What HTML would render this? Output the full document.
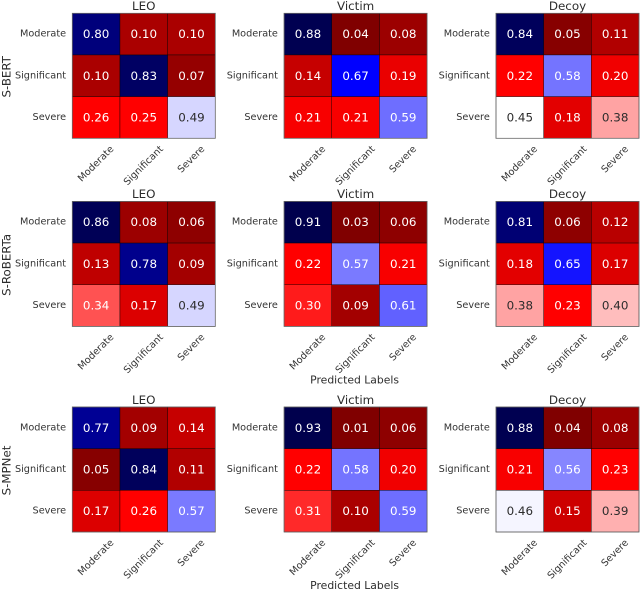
<!DOCTYPE html>
<html>
<head>
<meta charset="utf-8">
<title>Confusion matrices</title>
<style>
html,body{margin:0;padding:0;background:#fff;width:640px;height:589px;overflow:hidden}
svg{display:block;filter:blur(0.35px)}
text{font-family:"DejaVu Sans","Liberation Sans",sans-serif}
</style>
</head>
<body>
<svg id="chart" xmlns="http://www.w3.org/2000/svg" width="640" height="589" viewBox="0 0 640 589"></svg>
<script>
const categories = ["Moderate", "Significant", "Severe"];
const columnTitles = ["LEO", "Victim", "Decoy"];
const modelNames = ["S-BERT", "S-RoBERTa", "S-MPNet"];
const xAxisTitle = "Predicted Labels";

const sbertLeo = [[0.80, 0.10, 0.10], [0.10, 0.83, 0.07], [0.26, 0.25, 0.49]];
const sbertVictim = [[0.88, 0.04, 0.08], [0.14, 0.67, 0.19], [0.21, 0.21, 0.59]];
const sbertDecoy = [[0.84, 0.05, 0.11], [0.22, 0.58, 0.20], [0.45, 0.18, 0.38]];
const robertaLeo = [[0.86, 0.08, 0.06], [0.13, 0.78, 0.09], [0.34, 0.17, 0.49]];
const robertaVictim = [[0.91, 0.03, 0.06], [0.22, 0.57, 0.21], [0.30, 0.09, 0.61]];
const robertaDecoy = [[0.81, 0.06, 0.12], [0.18, 0.65, 0.17], [0.38, 0.23, 0.40]];
const mpnetLeo = [[0.77, 0.09, 0.14], [0.05, 0.84, 0.11], [0.17, 0.26, 0.57]];
const mpnetVictim = [[0.93, 0.01, 0.06], [0.22, 0.58, 0.20], [0.31, 0.10, 0.59]];
const mpnetDecoy = [[0.88, 0.04, 0.08], [0.21, 0.56, 0.23], [0.46, 0.15, 0.39]];

const matrices = [
  [sbertLeo, sbertVictim, sbertDecoy],
  [robertaLeo, robertaVictim, robertaDecoy],
  [mpnetLeo, mpnetVictim, mpnetDecoy]
];

// Colour scale: cell value to position on the reversed seismic colormap
const colorScaleValues = [0.04, 0.22, 0.28, 0.31, 0.34, 0.38, 0.45, 0.49, 0.57, 0.61, 0.65, 0.67, 0.77, 0.84, 0.90];
const colorScaleStops = [0.00, 0.25, 0.25, 0.29, 0.33, 0.41, 0.50, 0.54, 0.63, 0.655, 0.73, 0.75, 0.90, 0.98, 1.00];

const svg = document.getElementById('chart');
const NS = 'http://www.w3.org/2000/svg';
const panelW = 143, panelH = 125;
const panelLeft = [72.3, 284.1, 496];
const panelTop = [13.3, 201.4, 407];
const showXTitle = [false, true, true];
const textDark = '#2c2c2c';

function make(parent, tag, attrs, content) {
  const el = document.createElementNS(NS, tag);
  for (const k in attrs) el.setAttribute(k, attrs[k]);
  if (content !== undefined) el.textContent = content;
  parent.appendChild(el);
  return el;
}

function colorPosition(v) {
  const xs = colorScaleValues, ys = colorScaleStops;
  if (v <= xs[0]) return ys[0];
  for (let k = 1; k < xs.length; k++) {
    if (v <= xs[k]) return ys[k - 1] + (ys[k] - ys[k - 1]) * (v - xs[k - 1]) / (xs[k] - xs[k - 1]);
  }
  return ys[ys.length - 1];
}

// seismic_r colormap
function seismicR(t) {
  const u = 1 - Math.max(0, Math.min(1, t));
  let r, g, b;
  if (u < 0.25) { const f = u / 0.25; r = 0; g = 0; b = 0.3 + 0.7 * f; }
  else if (u < 0.5) { const f = (u - 0.25) / 0.25; r = f; g = f; b = 1; }
  else if (u < 0.75) { const f = (u - 0.5) / 0.25; r = 1; g = 1 - f; b = 1 - f; }
  else { const f = (u - 0.75) / 0.25; r = 1 - 0.5 * f; g = 0; b = 0; }
  return [r, g, b];
}
function luminance(c) {
  const l = c.map(v => v <= 0.03928 ? v / 12.92 : Math.pow((v + 0.055) / 1.055, 2.4));
  return 0.2126 * l[0] + 0.7152 * l[1] + 0.0722 * l[2];
}
function css(c) {
  return 'rgb(' + c.map(v => Math.round(v * 255)).join(',') + ')';
}

matrices.forEach(function (rowMatrices, r) {
  const rowGroup = make(svg, 'g', {});
  
  

  const top = panelTop[r];
  const modelLabel = make(rowGroup, 'text', {
    x: 0, y: 0, 'font-size': 11.8, fill: textDark,
    'text-anchor': 'middle', 'dominant-baseline': 'central',
    transform: 'translate(6.5 ' + (top + panelH / 2 + 1) + ') rotate(-90)'
  }, modelNames[r]);
  
  

  rowMatrices.forEach(function (values, c) {
    const left = panelLeft[c];
    const xScale = i => left + i * panelW / categories.length;
    const yScale = j => top + j * panelH / categories.length;
    const cellW = panelW / categories.length, cellH = panelH / categories.length;

    const g = make(rowGroup, 'g', {});
    
    

    const title = make(g, 'text', {
      x: left + panelW / 2, y: top - 3.2, 'font-size': 11.9,
      fill: textDark, 'text-anchor': 'middle'
    }, columnTitles[c]);
    
    

    values.forEach(function (row, j) {
      row.forEach(function (v, i) {
        const col = seismicR(colorPosition(v));
        const cell = make(g, 'rect', {
          x: xScale(i), y: yScale(j), width: cellW, height: cellH,
          fill: css(col), stroke: '#000', 'stroke-width': 0.4
        });
        
        
      });
    });

    values.forEach(function (row, j) {
      row.forEach(function (v, i) {
        const col = seismicR(colorPosition(v));
        const label = make(g, 'text', {
          x: xScale(i) + cellW / 2, y: yScale(j) + cellH / 2, 'font-size': 11.9,
          fill: luminance(col) > 0.408 ? textDark : '#fff',
          'text-anchor': 'middle', 'dominant-baseline': 'central'
        }, v.toFixed(2));
        
        
      });
    });

    const frame = make(g, 'rect', {
      x: left, y: top, width: panelW, height: panelH,
      fill: 'none', stroke: '#666', 'stroke-width': 0.8
    });
    
    

    categories.forEach(function (name, j) {
      const yTick = make(g, 'text', {
        x: left - 6.2, y: yScale(j) + cellH / 2, 'font-size': 9.7,
        fill: '#333', 'text-anchor': 'end', 'dominant-baseline': 'central'
      }, name);
      
      
    });

    categories.forEach(function (name, i) {
      const xTick = make(g, 'text', {
        x: 0, y: 0, 'font-size': 9.7, fill: '#333',
        'text-anchor': 'middle', 'dominant-baseline': 'central'
      }, name);
      
      
      const len = xTick.getComputedTextLength();
      const cy = top + panelH + 8.5 + len * 0.3536 + 1;
      xTick.setAttribute('transform', 'translate(' + (xScale(i) + cellW / 2) + ' ' + cy + ') rotate(-45)');
    });

    if (c === 1 && showXTitle[r]) {
      const xt = make(g, 'text', {
        x: left + panelW / 2 - 1, y: top + panelH + 57, 'font-size': 10.8,
        fill: textDark, 'text-anchor': 'middle'
      }, xAxisTitle);
      
      
    }
  });
});
</script>
</body>
</html>
